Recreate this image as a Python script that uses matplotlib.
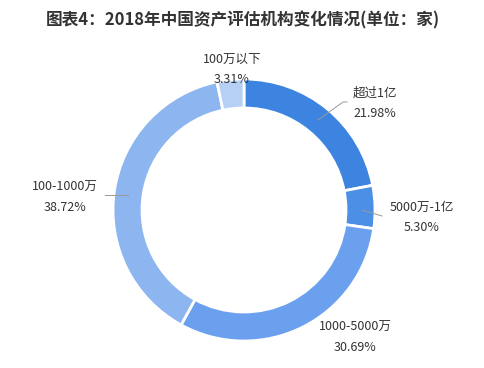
import matplotlib
matplotlib.use("Agg")
import matplotlib.pyplot as plt
import numpy as np

plt.rcParams['font.family'] = ['Noto Sans CJK SC', 'DejaVu Sans']

categories = ["超过1亿", "5000万-1亿", "1000-5000万", "100-1000万", "100万以下"]
values = [21.98, 5.30, 30.69, 38.72, 3.31]
pct_labels = ["21.98%", "5.30%", "30.69%", "38.72%", "3.31%"]
colors = ["#3c84e0", "#4c8fe6", "#6aa0ee", "#8db6f1", "#b6d0f5"]

W, H = 485, 368
fig = plt.figure(figsize=(W / 100, H / 100), dpi=100)
ax = fig.add_axes([0, 0, 1, 1])
ax.set_xlim(0, W)
ax.set_ylim(0, H)
ax.set_aspect('equal')
ax.axis('off')

cx, cy = 244, H - 210
R = 131
ring = 29

wedges, _ = ax.pie(values, startangle=90, counterclock=False, colors=colors,
                   radius=R, center=(cx, cy), frame=True,
                   wedgeprops=dict(width=ring, edgecolor='white', linewidth=2))
ax.set_xlim(0, W)
ax.set_ylim(0, H)
ax.axis('off')

# label text positions (pixel coords from top)
label_pos = [(375, 93), (422, 207), (355, 327), (65, 187), (232, 59)]
for i, (x, y) in enumerate(label_pos):
    ax.text(x, H - y, categories[i], ha='center', va='center', fontsize=9, color='#333333')
    ax.text(x, H - y - 20.5, pct_labels[i], ha='center', va='center', fontsize=9, color='#333333')

# leader lines
leaders = {0: [(318, 120), (343, 102), (347, 102)],
           1: [(362, 210), (382, 216)],
           3: [(105, 195), (128, 195)]}
for k, pts in leaders.items():
    xs = [p[0] for p in pts]
    ys = [H - p[1] for p in pts]
    ax.plot(xs, ys, color='#999999', linewidth=0.7)

fig.text(0.5, 1 - 20 / H, "图表4：2018年中国资产评估机构变化情况(单位：家)",
         ha='center', va='center', fontsize=12, fontweight='bold', color='#333333')

fig.savefig("out.png", dpi=100)
